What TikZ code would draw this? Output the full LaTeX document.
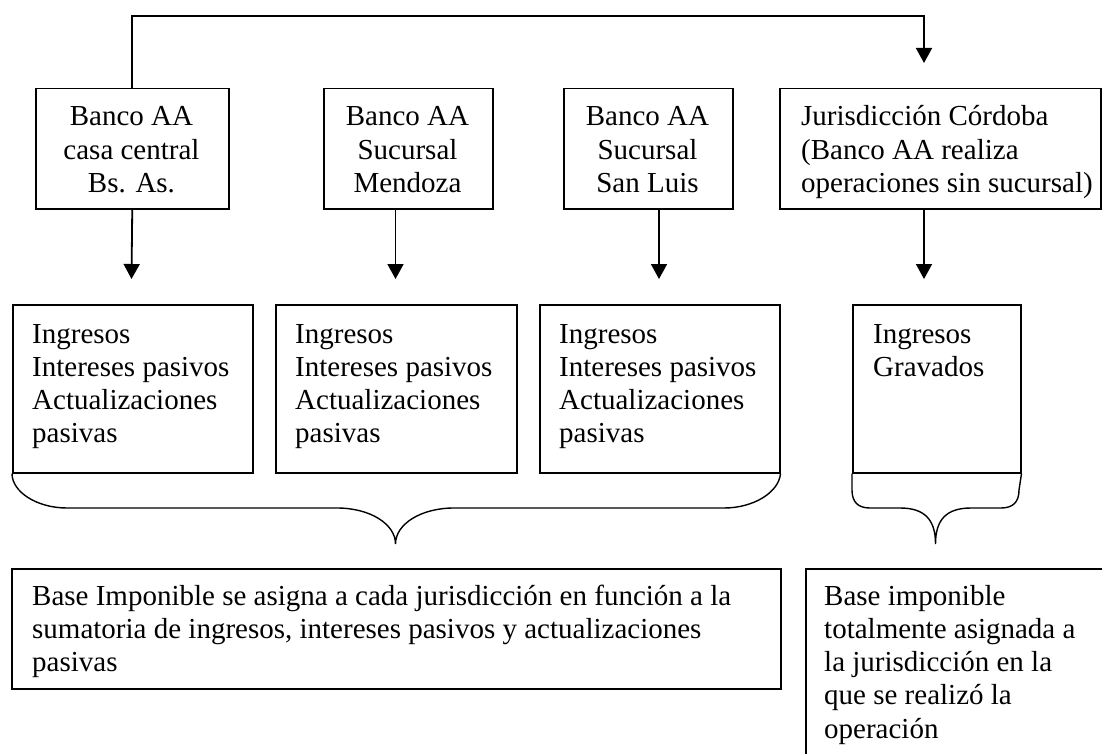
\documentclass[tikz,border=0pt]{standalone}
\usepackage{fontspec}
\setmainfont{Liberation Serif}
\usetikzlibrary{arrows.meta}
\begin{document}
\begin{tikzpicture}[x=1pt,y=-1pt,
  box/.style={draw, line width=1.5pt, inner sep=0pt, anchor=north west},
  txt/.style={inner sep=0pt, font=\fontsize{29}{33.3}\selectfont},
  arr/.style={line width=1.8pt, -{Triangle[width=16pt,length=15pt]}},
  brace/.style={line width=1.4pt}]
\useasboundingbox (0,0) rectangle (1102,754);
\clip (0,0) rectangle (1102,754);
% top row
\node[box, minimum width=193pt, minimum height=120pt] (b1) at (35,88) {};
\node[box, minimum width=169pt, minimum height=120pt] (b2) at (323,88) {};
\node[box, minimum width=169pt, minimum height=120pt] (b3) at (563,88) {};
\node[box, minimum width=321pt, minimum height=120pt] (b4) at (779,88) {};
\node[txt, anchor=base] (t1) at (131.5,126) {\parbox[t]{190pt}{\centering Banco AA\\casa central\\Bs. As.}};
\node[txt, anchor=base] (t2) at (407.5,126) {\parbox[t]{168pt}{\centering Banco AA\\Sucursal\\Mendoza}};
\node[txt, anchor=base] (t3) at (647.5,126) {\parbox[t]{168pt}{\centering Banco AA\\Sucursal\\San Luis}};
\node[txt, anchor=base west] (t4) at (801,126) {\parbox[t]{300pt}{\raggedright Jurisdicción Córdoba\\(Banco AA realiza\\operaciones sin sucursal)}};
% second row
\node[box, minimum width=240pt, minimum height=168pt] (rA) at (12,304) {};
\node[box, minimum width=241pt, minimum height=168pt] (rB) at (275,304) {};
\node[box, minimum width=240pt, minimum height=168pt] (rC) at (539,304) {};
\node[box, minimum width=168pt, minimum height=168pt] (rD) at (852,304) {};
\node[txt, anchor=base west] (sA) at (32,343) {\parbox[t]{230pt}{\raggedright Ingresos\\Intereses pasivos\\Actualizaciones\\pasivas}};
\node[txt, anchor=base west] (sB) at (295,343) {\parbox[t]{230pt}{\raggedright Ingresos\\Intereses pasivos\\Actualizaciones\\pasivas}};
\node[txt, anchor=base west] (sC) at (559,343) {\parbox[t]{230pt}{\raggedright Ingresos\\Intereses pasivos\\Actualizaciones\\pasivas}};
\node[txt, anchor=base west] (sD) at (873,343) {\parbox[t]{150pt}{\raggedright Ingresos\\Gravados}};
% bottom row
\node[box, minimum width=769pt, minimum height=120pt] (bL) at (11,568) {};
\node[box, minimum width=320pt, minimum height=220pt] (bR) at (805,568) {};
\node[txt, anchor=base west] (uL) at (32,605) {\parbox[t]{760pt}{\raggedright Base Imponible se asigna a cada jurisdicción en función a la\\sumatoria de ingresos, intereses pasivos y actualizaciones\\pasivas}};
\node[txt, anchor=base west] (uR) at (824,605) {\parbox[t]{270pt}{\raggedright Base imponible\\totalmente asignada a\\la jurisdicción en la\\que se realizó la\\operación}};
% connectors
\coordinate (top1) at (924,16);
\coordinate (a4top) at (924,63);
\coordinate (a1) at (131.5,279);
\coordinate (a2) at (395.5,279);
\coordinate (a3) at (659,279);
\coordinate (a4) at (924,279);
\draw[arr] (b1.north) |- (top1) -- (a4top);
\draw[arr] (b1.south) -- (a1);
\draw[arr] (b2.south -| a2) -- (a2);
\draw[arr] (b3.south -| a3) -- (a3);
\draw[arr] (b4.south -| a4) -- (a4);
% braces
\draw[brace] (rA.south west) .. controls (12,492) and (37,508) .. (67,508) -- (337,508)
  .. controls (370,508) and (395.5,524) .. (395.5,544)
  .. controls (395.5,524) and (421,508) .. (454,508) -- (724,508)
  .. controls (754,508) and (779,492) .. (rC.south east);
\draw[brace] (rD.south west) -- (852,490) .. controls (852,502) and (858,508) .. (870,508) -- (900,508)
  .. controls (925,508) and (935.5,520) .. (935.5,544)
  .. controls (935.5,520) and (946,508) .. (971,508) -- (1001,508)
  .. controls (1013,508) and (1019,502) .. (1019,490) -- (rD.south east);
\end{tikzpicture}
\end{document}
